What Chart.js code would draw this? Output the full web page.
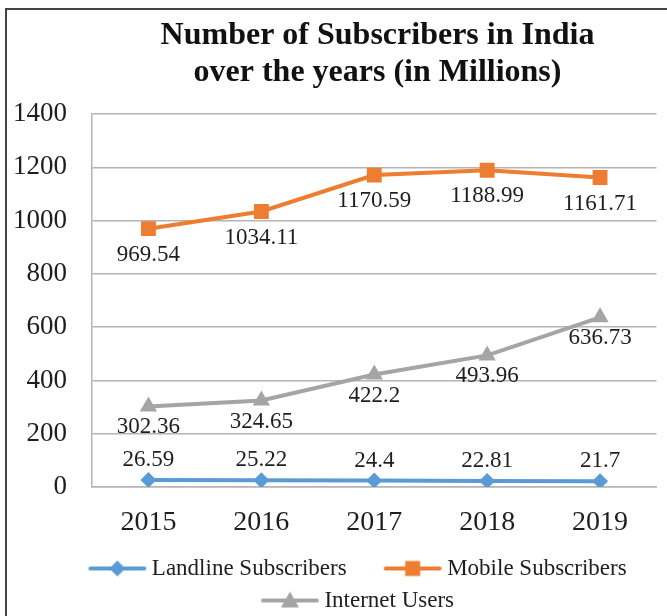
<!DOCTYPE html>
<html>
<head>
<meta charset="utf-8">
<title>Number of Subscribers in India</title>
<script src="https://cdn.jsdelivr.net/npm/chart.js@4/dist/chart.umd.min.js"></script>
<style>
  html, body { margin: 0; padding: 0; background: #fff; overflow: hidden; }
  #wrap { width: 667px; height: 616px; }
</style>
</head>
<body>
<div id="wrap"><canvas id="chart" width="667" height="616"></canvas></div>
<script>
// Subscribers in India, millions
const years = ['2015', '2016', '2017', '2018', '2019'];
const landline = [26.59, 25.22, 24.4, 22.81, 21.7];
const mobile = [969.54, 1034.11, 1170.59, 1188.99, 1161.71];
const internet = [302.36, 324.65, 422.2, 493.96, 636.73];
const yTicks = [0, 200, 400, 600, 800, 1000, 1200, 1400];

const SERIF = '"Liberation Serif", "Times New Roman", Times, serif';
const TEXT = '#1e1e1e';
const GRID = '#b4b4b4';

// Legend swatch: a line with the series marker in its middle.
// The blank space on its left keeps the legend items apart.
const BOX = 80;
function swatch(color, marker) {
  const c = document.createElement('canvas');
  c.width = BOX + 16; c.height = 22;
  const g = c.getContext('2d');
  const y = 11, x0 = 36, x1 = 94, cx = (x0 + x1) / 2;
  g.strokeStyle = color; g.lineWidth = 4; g.lineCap = 'round';
  g.beginPath(); g.moveTo(x0 + 2, y); g.lineTo(x1 - 2, y); g.stroke();
  g.fillStyle = color;
  g.beginPath();
  if (marker === 'diamond') {
    g.moveTo(cx, y - 8); g.lineTo(cx + 8, y); g.lineTo(cx, y + 8); g.lineTo(cx - 8, y);
  } else if (marker === 'square') {
    g.rect(cx - 7.5, y - 7.5, 15, 15);
  } else {
    g.moveTo(cx, y - 9); g.lineTo(cx + 9, y + 7); g.lineTo(cx - 9, y + 7);
  }
  g.closePath(); g.fill();
  return c;
}

// Frame around the chart
const frame = {
  id: 'frame',
  beforeDraw(chart) {
    const ctx = chart.ctx;
    ctx.save();
    ctx.strokeStyle = '#444';
    ctx.lineWidth = 2;
    ctx.strokeRect(6, 9, 900, 900);
    ctx.restore();
  }
};

// Value labels next to each point
const valueLabels = {
  id: 'valueLabels',
  afterDatasetsDraw(chart) {
    const ctx = chart.ctx;
    ctx.save();
    ctx.font = '23px ' + SERIF;
    ctx.fillStyle = TEXT;
    ctx.textAlign = 'center';
    ctx.textBaseline = 'middle';
    chart.data.datasets.forEach((ds, i) => {
      chart.getDatasetMeta(i).data.forEach((pt, j) => {
        ctx.fillText(String(ds.data[j]), pt.x, pt.y + ds.labelOffset);
      });
    });
    ctx.restore();
  }
};

// Centre title and legend on the full (wider) chart frame
const shiftBoxes = {
  id: 'shiftBoxes',
  afterLayout(chart) {
    const t = chart.titleBlock;
    if (t) { t.left += 38; t.right += 38; }
    const l = chart.legend;
    if (l) { l.left += 4; l.right += 4; }
  }
};

const markerFor = ['diamond', 'square', 'triangle'];

new Chart(document.getElementById('chart'), {
  type: 'line',
  data: {
    labels: years,
    datasets: [
      {
        label: 'Landline Subscribers',
        data: landline,
        borderColor: '#5B9BD5',
        backgroundColor: '#5B9BD5',
        pointStyle: 'rectRot',
        pointRadius: 8,
        labelOffset: -20
      },
      {
        label: 'Mobile Subscribers',
        data: mobile,
        borderColor: '#ED7D31',
        backgroundColor: '#ED7D31',
        pointStyle: 'rect',
        pointRadius: 10.5,
        labelOffset: 26
      },
      {
        label: 'Internet Users',
        data: internet,
        borderColor: '#A5A5A5',
        backgroundColor: '#A5A5A5',
        pointStyle: 'triangle',
        pointRadius: 10,
        labelOffset: 21
      }
    ]
  },
  options: {
    responsive: false,
    animation: false,
    layout: { padding: { left: 12, right: 0, top: 0, bottom: 0 } },
    elements: {
      line: { borderWidth: 4, tension: 0 },
      point: { borderWidth: 0, hoverRadius: 10 }
    },
    scales: {
      x: {
        type: 'category',
        offset: true,
        grid: { display: false, drawTicks: false },
        border: { display: true, color: GRID, width: 1.5 },
        ticks: { color: TEXT, padding: 19, font: { family: SERIF, size: 28 } },
        afterFit(scale) { scale.height = 61; }
      },
      y: {
        min: 0,
        max: 1400,
        afterBuildTicks(scale) { scale.ticks = yTicks.map(v => ({ value: v })); },
        grid: { color: GRID, lineWidth: 1.5, drawTicks: false },
        border: { display: true, color: GRID, width: 1.5 },
        ticks: {
          color: TEXT,
          padding: 25,
          font: { family: SERIF, size: 27 },
          callback: (v) => String(v)
        },
        afterFit(scale) { scale.width = 80; }
      }
    },
    plugins: {
      title: {
        display: true,
        text: ['Number of Subscribers in India', 'over the years (in Millions)'],
        color: '#111',
        font: { family: SERIF, size: 32, weight: 'bold', lineHeight: 1.156 },
        padding: { top: 17.5, bottom: 22.5 }
      },
      legend: {
        position: 'bottom',
        maxHeight: 68,
        labels: {
          color: TEXT,
          font: { family: SERIF, size: 23 },
          padding: 9,
          usePointStyle: true,
          pointStyleWidth: BOX,
          generateLabels(chart) {
            return chart.data.datasets.map((ds, i) => ({
              text: ds.label,
              pointStyle: swatch(ds.borderColor, markerFor[i]),
              fillStyle: ds.borderColor,
              strokeStyle: ds.borderColor,
              lineWidth: 0,
              hidden: false,
              datasetIndex: i,
              fontColor: TEXT
            }));
          }
        }
      },
      tooltip: { enabled: false }
    }
  },
  plugins: [frame, valueLabels, shiftBoxes]
});
</script>
</body>
</html>
